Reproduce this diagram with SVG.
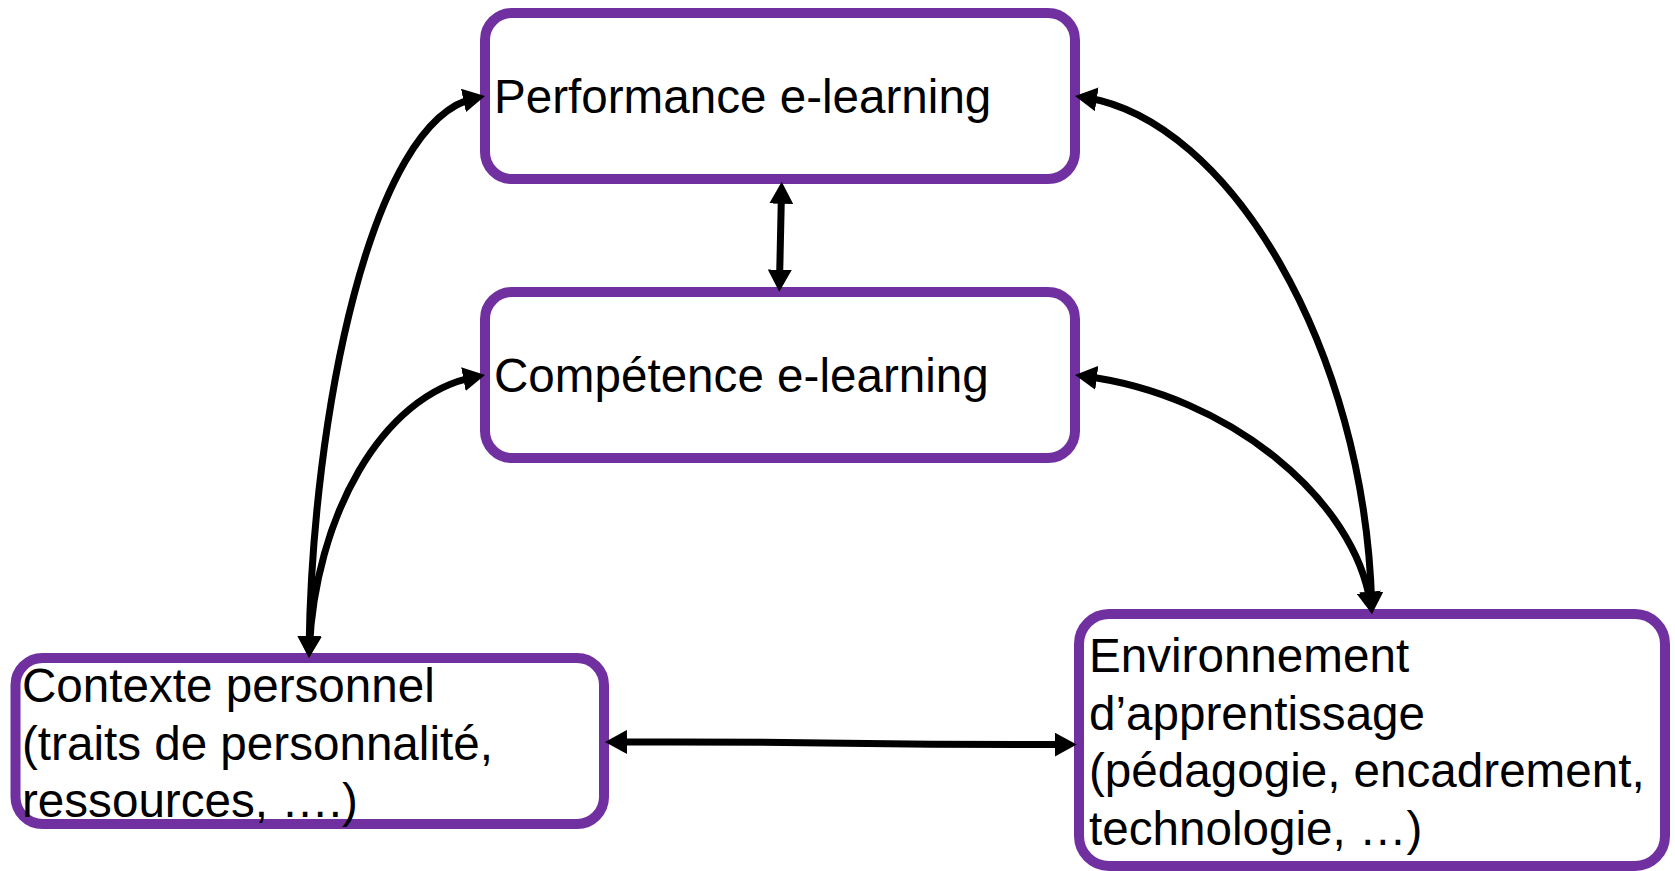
<svg xmlns="http://www.w3.org/2000/svg" width="1675" height="871" viewBox="0 0 1675 871">
  <style>
    .box { fill: #ffffff; stroke: #7030A0; stroke-width: 10; }
    .lbl { font-family: "Liberation Sans", Arial, sans-serif; font-size: 47.6px; fill: #000000; }
    .con { fill: none; stroke: #000000; stroke-width: 7; marker-start: url(#ah); marker-end: url(#ah); }
  </style>
  <defs>
    <marker id="ah" viewBox="0 0 22 24" markerUnits="userSpaceOnUse" markerWidth="22" markerHeight="24" refX="12" refY="12" orient="auto-start-reverse">
      <path d="M0,0 L22,12 L0,24 z" fill="#000000"/>
    </marker>
  </defs>
  <rect width="1675" height="871" fill="#ffffff"/>
  <g id="node-performance">
    <rect class="box" x="485" y="13" width="590" height="166" rx="27" ry="27"/>
    <text class="lbl" x="494" y="113">Performance e-learning</text>
  </g>
  <g id="node-competence">
    <rect class="box" x="485" y="292" width="590" height="166" rx="27" ry="27"/>
    <text class="lbl" x="494" y="392">Compétence e-learning</text>
  </g>
  <g id="node-contexte">
    <rect class="box" x="15.5" y="658" width="588.5" height="166" rx="27" ry="27"/>
    <text class="lbl" x="22" y="702">Contexte personnel</text>
    <text class="lbl" x="22" y="759.5">(traits de personnalité,</text>
    <text class="lbl" x="22" y="817">ressources, ….)</text>
  </g>
  <g id="node-environnement">
    <rect class="box" x="1079" y="614" width="586" height="252" rx="30" ry="30"/>
    <text class="lbl" x="1089" y="672">Environnement</text>
    <text class="lbl" x="1089" y="730">d’apprentissage</text>
    <text class="lbl" x="1089" y="787">(pédagogie, encadrement,</text>
    <text class="lbl" x="1089" y="845">technologie, …)</text>
  </g>
  <g id="connectors">
    <path class="con" d="M309.1,648 C312,420 370,120 475.2,98"/>
    <path class="con" d="M309.4,648 C315,520 380,395 475.2,376.9"/>
    <path class="con" d="M1371.7,604 C1365,350 1230,120 1084.9,97.5"/>
    <path class="con" d="M1370.5,604.1 C1355,500 1230,395 1084.9,376.3"/>
    <path class="con" d="M781.5,191.7 L779.5,281.7"/>
    <path class="con" d="M615,742 C840,741 840,745 1066.7,744.5"/>
  </g>
</svg>
